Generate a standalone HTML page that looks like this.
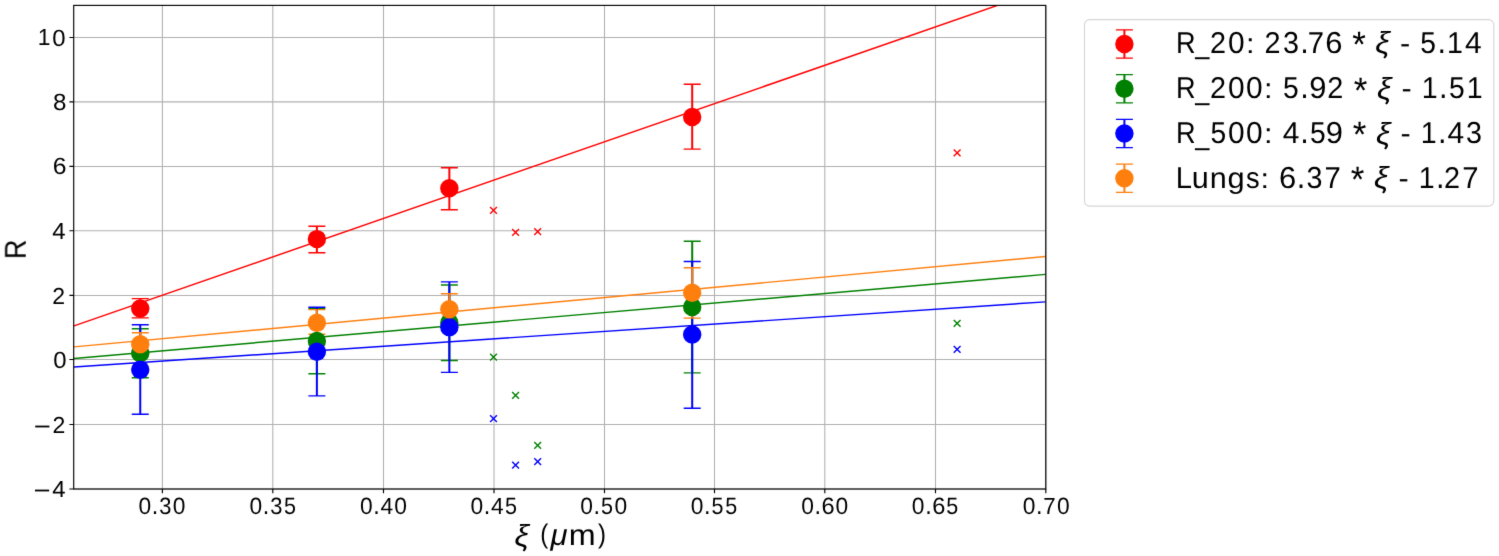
<!DOCTYPE html><html><head><meta charset="utf-8"><style>html,body{margin:0;padding:0;background:#fff;overflow:hidden}svg{display:block}text{font-family:"Liberation Sans", sans-serif;fill:#000;text-rendering:geometricPrecision}</style></head><body>
<svg width="1499" height="556" viewBox="0 0 1499 556">
<defs><filter id="bl" x="0" y="0" width="1499" height="556" filterUnits="userSpaceOnUse" color-interpolation-filters="sRGB"><feConvolveMatrix order="3" kernelMatrix="0.00810 0.07380 0.00810 0.07380 0.67240 0.07380 0.00810 0.07380 0.00810" divisor="1" edgeMode="duplicate" preserveAlpha="false"/></filter></defs>
<g filter="url(#bl)">
<rect width="1499" height="556" fill="#fff"/>
<defs><clipPath id="ax"><rect x="73.70" y="5.40" width="972.10" height="483.60"/></clipPath></defs>
<path d="M162.40 5.40V489.00M272.80 5.40V489.00M383.50 5.40V489.00M494.00 5.40V489.00M604.50 5.40V489.00M714.50 5.40V489.00M824.80 5.40V489.00M935.50 5.40V489.00M1045.80 5.40V489.00M73.70 489.00H1045.80M73.70 424.50H1045.80M73.70 359.50H1045.80M73.70 295.43H1045.80M73.70 230.75H1045.80M73.70 166.43H1045.80M73.70 101.87H1045.80M73.70 37.50H1045.80" stroke="#b0b0b0" stroke-width="1.05" fill="none"/>
<path d="M162.40 489.00v4.30M272.80 489.00v4.30M383.50 489.00v4.30M494.00 489.00v4.30M604.50 489.00v4.30M714.50 489.00v4.30M824.80 489.00v4.30M935.50 489.00v4.30M1045.80 489.00v4.30M73.70 489.00h-4.30M73.70 424.50h-4.30M73.70 359.50h-4.30M73.70 295.43h-4.30M73.70 230.75h-4.30M73.70 166.43h-4.30M73.70 101.87h-4.30M73.70 37.50h-4.30" stroke="#000" stroke-width="1.14" fill="none"/>
<g clip-path="url(#ax)">
<path d="M490.10 206.90l6.80 6.80M490.10 213.70l6.80 -6.80M512.18 228.90l6.80 6.80M512.18 235.70l6.80 -6.80M534.26 228.20l6.80 6.80M534.26 235.00l6.80 -6.80M953.74 149.50l6.80 6.80M953.74 156.30l6.80 -6.80" stroke="#ff0000" stroke-width="1.40" fill="none"/>
<path d="M490.10 353.70l6.80 6.80M490.10 360.50l6.80 -6.80M512.18 392.00l6.80 6.80M512.18 398.80l6.80 -6.80M534.26 441.90l6.80 6.80M534.26 448.70l6.80 -6.80M953.74 320.00l6.80 6.80M953.74 326.80l6.80 -6.80" stroke="#008000" stroke-width="1.40" fill="none"/>
<path d="M490.10 415.20l6.80 6.80M490.10 422.00l6.80 -6.80M512.18 461.80l6.80 6.80M512.18 468.60l6.80 -6.80M534.26 458.30l6.80 6.80M534.26 465.10l6.80 -6.80M953.74 345.90l6.80 6.80M953.74 352.70l6.80 -6.80" stroke="#0000ff" stroke-width="1.40" fill="none"/>
<path d="M140.25 298.60V317.90M316.88 226.25V252.80M449.35 167.80V209.70M692.20 84.20V149.10" stroke="#ff0000" stroke-width="2.00" fill="none"/>
<path d="M131.75 298.60h17.00M131.75 317.90h17.00M308.38 226.25h17.00M308.38 252.80h17.00M440.85 167.80h17.00M440.85 209.70h17.00M683.70 84.20h17.00M683.70 149.10h17.00" stroke="#ff0000" stroke-width="1.40" fill="none"/>
<path d="M74.02 325.89L1045.45 -11.27" stroke="#ff0000" stroke-width="1.45" fill="none"/>
<path d="M140.25 328.70V377.80M316.88 308.50V373.70M449.35 285.00V360.50M692.20 241.20V372.90" stroke="#008000" stroke-width="2.00" fill="none"/>
<path d="M131.75 328.70h17.00M131.75 377.80h17.00M308.38 308.50h17.00M308.38 373.70h17.00M440.85 285.00h17.00M440.85 360.50h17.00M683.70 241.20h17.00M683.70 372.90h17.00" stroke="#008000" stroke-width="1.40" fill="none"/>
<path d="M74.02 358.41L1045.45 274.40" stroke="#008000" stroke-width="1.45" fill="none"/>
<path d="M140.25 324.70V414.30M316.88 307.30V395.90M449.35 281.90V372.40M692.20 261.50V408.20" stroke="#0000ff" stroke-width="2.00" fill="none"/>
<path d="M131.75 324.70h17.00M131.75 414.30h17.00M308.38 307.30h17.00M308.38 395.90h17.00M440.85 281.90h17.00M440.85 372.40h17.00M683.70 261.50h17.00M683.70 408.20h17.00" stroke="#0000ff" stroke-width="1.40" fill="none"/>
<path d="M74.02 366.98L1045.45 301.85" stroke="#0000ff" stroke-width="1.45" fill="none"/>
<path d="M140.25 332.80V355.80M316.88 309.60V334.20M449.35 293.80V324.60M692.20 267.80V318.10" stroke="#ff7f0e" stroke-width="2.00" fill="none"/>
<path d="M131.75 332.80h17.00M131.75 355.80h17.00M308.38 309.60h17.00M308.38 334.20h17.00M440.85 293.80h17.00M440.85 324.60h17.00M683.70 267.80h17.00M683.70 318.10h17.00" stroke="#ff7f0e" stroke-width="1.40" fill="none"/>
<path d="M74.02 346.90L1045.45 256.50" stroke="#ff7f0e" stroke-width="1.45" fill="none"/>
<circle cx="140.25" cy="308.50" r="9.20" fill="#ff0000"/>
<circle cx="316.88" cy="239.10" r="9.20" fill="#ff0000"/>
<circle cx="449.35" cy="188.30" r="9.20" fill="#ff0000"/>
<circle cx="692.20" cy="117.00" r="9.20" fill="#ff0000"/>
<circle cx="140.25" cy="353.30" r="9.20" fill="#008000"/>
<circle cx="316.88" cy="340.90" r="9.20" fill="#008000"/>
<circle cx="449.35" cy="322.75" r="9.20" fill="#008000"/>
<circle cx="692.20" cy="307.05" r="9.20" fill="#008000"/>
<circle cx="140.25" cy="369.70" r="9.20" fill="#0000ff"/>
<circle cx="316.88" cy="351.80" r="9.20" fill="#0000ff"/>
<circle cx="449.35" cy="327.15" r="9.20" fill="#0000ff"/>
<circle cx="692.20" cy="334.50" r="9.20" fill="#0000ff"/>
<circle cx="140.25" cy="344.30" r="9.20" fill="#ff7f0e"/>
<circle cx="316.88" cy="322.70" r="9.20" fill="#ff7f0e"/>
<circle cx="449.35" cy="309.20" r="9.20" fill="#ff7f0e"/>
<circle cx="692.20" cy="292.80" r="9.20" fill="#ff7f0e"/>
</g>
<rect x="73.70" y="5.40" width="972.10" height="483.60" fill="none" stroke="#000" stroke-width="1.14"/>
<rect x="1084.5" y="19.6" width="409.25" height="186.5" rx="5.2" ry="5.2" fill="#fff" fill-opacity="0.8" stroke="#d6d6d6" stroke-width="1.14"/>
<path d="M1124.40 29.85V58.15" stroke="#ff0000" stroke-width="2.00" fill="none"/>
<path d="M1115.90 29.85h17.00M1115.90 58.15h17.00" stroke="#ff0000" stroke-width="1.40" fill="none"/>
<circle cx="1124.40" cy="44.00" r="9.20" fill="#ff0000"/>
<path d="M1124.40 74.60V102.90" stroke="#008000" stroke-width="2.00" fill="none"/>
<path d="M1115.90 74.60h17.00M1115.90 102.90h17.00" stroke="#008000" stroke-width="1.40" fill="none"/>
<circle cx="1124.40" cy="88.75" r="9.20" fill="#008000"/>
<path d="M1124.40 119.35V147.65" stroke="#0000ff" stroke-width="2.00" fill="none"/>
<path d="M1115.90 119.35h17.00M1115.90 147.65h17.00" stroke="#0000ff" stroke-width="1.40" fill="none"/>
<circle cx="1124.40" cy="133.50" r="9.20" fill="#0000ff"/>
<path d="M1124.40 164.10V192.40" stroke="#ff7f0e" stroke-width="2.00" fill="none"/>
<path d="M1115.90 164.10h17.00M1115.90 192.40h17.00" stroke="#ff7f0e" stroke-width="1.40" fill="none"/>
<circle cx="1124.40" cy="178.25" r="9.20" fill="#ff7f0e"/>
<text transform="translate(1176.02 52.90) scale(0.936 1.036)" font-size="29.0">R</text>
<text transform="translate(1195.26 53.39) scale(0.872 1.076)" font-size="29.0">_</text>
<text transform="translate(1209.95 52.90) scale(0.994 1.040)" font-size="29.0">2</text>
<text transform="translate(1228.06 53.01) scale(1.031 1.045)" font-size="29.0">0</text>
<text transform="translate(1245.91 52.90) scale(1.058 0.957)" font-size="29.0">:</text>
<text transform="translate(1264.57 52.90) scale(0.994 1.040)" font-size="29.0">2</text>
<text transform="translate(1283.04 53.01) scale(0.990 1.045)" font-size="29.0">3</text>
<text transform="translate(1300.23 52.90) scale(1.058 1.134)" font-size="29.0">.</text>
<text transform="translate(1307.66 52.90) scale(1.009 1.036)" font-size="29.0">7</text>
<text transform="translate(1325.28 53.01) scale(1.067 1.045)" font-size="29.0">6</text>
<text transform="translate(1352.19 57.20) scale(1.205 1.271)" font-size="29.0">*</text>
<text transform="translate(1375.27 53.41) scale(1.124 1.050)" font-size="29.0" font-style="italic">ξ</text>
<text transform="translate(1399.92 52.85) scale(1.054 1.003)" font-size="29.0">-</text>
<text transform="translate(1420.18 53.01) scale(0.973 1.042)" font-size="29.0">5</text>
<text transform="translate(1437.39 52.90) scale(1.058 1.134)" font-size="29.0">.</text>
<text transform="translate(1447.10 52.90) scale(0.985 1.036)" font-size="29.0">1</text>
<text transform="translate(1464.89 52.90) scale(1.031 1.036)" font-size="29.0">4</text>
<text transform="translate(1176.02 98.20) scale(0.936 1.036)" font-size="29.0">R</text>
<text transform="translate(1195.26 98.69) scale(0.872 1.076)" font-size="29.0">_</text>
<text transform="translate(1209.95 98.20) scale(0.994 1.040)" font-size="29.0">2</text>
<text transform="translate(1228.06 98.31) scale(1.031 1.045)" font-size="29.0">0</text>
<text transform="translate(1246.09 98.31) scale(1.031 1.045)" font-size="29.0">0</text>
<text transform="translate(1263.94 98.20) scale(1.058 0.957)" font-size="29.0">:</text>
<text transform="translate(1283.03 98.31) scale(0.973 1.042)" font-size="29.0">5</text>
<text transform="translate(1300.23 98.20) scale(1.058 1.134)" font-size="29.0">.</text>
<text transform="translate(1309.35 98.31) scale(1.065 1.045)" font-size="29.0">9</text>
<text transform="translate(1327.15 98.20) scale(0.994 1.040)" font-size="29.0">2</text>
<text transform="translate(1353.85 102.50) scale(1.205 1.271)" font-size="29.0">*</text>
<text transform="translate(1376.93 98.71) scale(1.124 1.050)" font-size="29.0" font-style="italic">ξ</text>
<text transform="translate(1401.58 98.15) scale(1.054 1.003)" font-size="29.0">-</text>
<text transform="translate(1421.73 98.20) scale(0.985 1.036)" font-size="29.0">1</text>
<text transform="translate(1439.04 98.20) scale(1.058 1.134)" font-size="29.0">.</text>
<text transform="translate(1448.88 98.31) scale(0.973 1.042)" font-size="29.0">5</text>
<text transform="translate(1466.79 98.20) scale(0.985 1.036)" font-size="29.0">1</text>
<text transform="translate(1176.02 143.10) scale(0.936 1.036)" font-size="29.0">R</text>
<text transform="translate(1195.26 143.59) scale(0.872 1.076)" font-size="29.0">_</text>
<text transform="translate(1210.38 143.21) scale(0.973 1.042)" font-size="29.0">5</text>
<text transform="translate(1228.06 143.21) scale(1.031 1.045)" font-size="29.0">0</text>
<text transform="translate(1246.09 143.21) scale(1.031 1.045)" font-size="29.0">0</text>
<text transform="translate(1263.94 143.10) scale(1.058 0.957)" font-size="29.0">:</text>
<text transform="translate(1282.67 143.10) scale(1.031 1.036)" font-size="29.0">4</text>
<text transform="translate(1300.23 143.10) scale(1.058 1.134)" font-size="29.0">.</text>
<text transform="translate(1310.07 143.21) scale(0.973 1.042)" font-size="29.0">5</text>
<text transform="translate(1325.84 143.21) scale(1.065 1.045)" font-size="29.0">9</text>
<text transform="translate(1352.82 147.40) scale(1.205 1.271)" font-size="29.0">*</text>
<text transform="translate(1375.91 143.61) scale(1.124 1.050)" font-size="29.0" font-style="italic">ξ</text>
<text transform="translate(1400.56 143.05) scale(1.054 1.003)" font-size="29.0">-</text>
<text transform="translate(1420.70 143.10) scale(0.985 1.036)" font-size="29.0">1</text>
<text transform="translate(1438.02 143.10) scale(1.058 1.134)" font-size="29.0">.</text>
<text transform="translate(1447.50 143.10) scale(1.031 1.036)" font-size="29.0">4</text>
<text transform="translate(1465.90 143.21) scale(0.990 1.045)" font-size="29.0">3</text>
<text transform="translate(1175.86 187.80) scale(1.006 1.036)" font-size="29.0">L</text>
<text transform="translate(1191.68 187.91) scale(1.055 1.044)" font-size="29.0">u</text>
<text transform="translate(1209.76 187.80) scale(1.055 1.018)" font-size="29.0">n</text>
<text transform="translate(1227.45 187.62) scale(1.063 1.010)" font-size="29.0">g</text>
<text transform="translate(1245.94 187.91) scale(0.938 1.028)" font-size="29.0">s</text>
<text transform="translate(1260.45 187.80) scale(1.058 0.957)" font-size="29.0">:</text>
<text transform="translate(1278.89 187.91) scale(1.067 1.045)" font-size="29.0">6</text>
<text transform="translate(1296.74 187.80) scale(1.058 1.134)" font-size="29.0">.</text>
<text transform="translate(1306.59 187.91) scale(0.990 1.045)" font-size="29.0">3</text>
<text transform="translate(1324.38 187.80) scale(1.009 1.036)" font-size="29.0">7</text>
<text transform="translate(1350.87 192.10) scale(1.205 1.271)" font-size="29.0">*</text>
<text transform="translate(1373.96 188.31) scale(1.124 1.050)" font-size="29.0" font-style="italic">ξ</text>
<text transform="translate(1398.60 187.75) scale(1.054 1.003)" font-size="29.0">-</text>
<text transform="translate(1418.75 187.80) scale(0.985 1.036)" font-size="29.0">1</text>
<text transform="translate(1436.07 187.80) scale(1.058 1.134)" font-size="29.0">.</text>
<text transform="translate(1443.94 187.80) scale(0.994 1.040)" font-size="29.0">2</text>
<text transform="translate(1462.17 187.80) scale(1.009 1.036)" font-size="29.0">7</text>
<text transform="translate(514.62 545.61) scale(1.124 1.050)" font-size="29.0" font-style="italic">ξ</text>
<text transform="translate(540.19 543.23) scale(0.827 0.935)" font-size="29.0">(</text>
<text transform="translate(550.58 545.30) scale(1.071 1.025)" font-size="29.0" font-style="italic">μ</text>
<text transform="translate(568.76 545.10) scale(1.114 1.018)" font-size="29.0">m</text>
<text transform="translate(598.06 543.23) scale(0.827 0.935)" font-size="29.0">)</text>
<text transform="translate(138.41 513.68) scale(0.991 1.029)" font-size="23.0">0</text>
<text transform="translate(151.77 513.60) scale(1.018 1.117)" font-size="23.0">.</text>
<text transform="translate(159.27 513.68) scale(0.952 1.029)" font-size="23.0">3</text>
<text transform="translate(172.72 513.68) scale(0.991 1.029)" font-size="23.0">0</text>
<text transform="translate(249.45 513.68) scale(0.991 1.029)" font-size="23.0">0</text>
<text transform="translate(262.82 513.60) scale(1.018 1.117)" font-size="23.0">.</text>
<text transform="translate(270.32 513.68) scale(0.952 1.029)" font-size="23.0">3</text>
<text transform="translate(284.03 513.68) scale(0.936 1.026)" font-size="23.0">5</text>
<text transform="translate(359.96 513.68) scale(0.991 1.029)" font-size="23.0">0</text>
<text transform="translate(373.32 513.60) scale(1.018 1.117)" font-size="23.0">.</text>
<text transform="translate(380.54 513.60) scale(0.991 1.020)" font-size="23.0">4</text>
<text transform="translate(394.27 513.68) scale(0.991 1.029)" font-size="23.0">0</text>
<text transform="translate(470.50 513.68) scale(0.991 1.029)" font-size="23.0">0</text>
<text transform="translate(483.87 513.60) scale(1.018 1.117)" font-size="23.0">.</text>
<text transform="translate(491.09 513.60) scale(0.991 1.020)" font-size="23.0">4</text>
<text transform="translate(505.08 513.68) scale(0.936 1.026)" font-size="23.0">5</text>
<text transform="translate(580.22 513.68) scale(0.991 1.029)" font-size="23.0">0</text>
<text transform="translate(593.58 513.60) scale(1.018 1.117)" font-size="23.0">.</text>
<text transform="translate(601.07 513.68) scale(0.936 1.026)" font-size="23.0">5</text>
<text transform="translate(614.53 513.68) scale(0.991 1.029)" font-size="23.0">0</text>
<text transform="translate(690.71 513.68) scale(0.991 1.029)" font-size="23.0">0</text>
<text transform="translate(704.08 513.60) scale(1.018 1.117)" font-size="23.0">.</text>
<text transform="translate(711.57 513.68) scale(0.936 1.026)" font-size="23.0">5</text>
<text transform="translate(725.29 513.68) scale(0.936 1.026)" font-size="23.0">5</text>
<text transform="translate(801.25 513.68) scale(0.991 1.029)" font-size="23.0">0</text>
<text transform="translate(814.61 513.60) scale(1.018 1.117)" font-size="23.0">.</text>
<text transform="translate(821.61 513.68) scale(1.026 1.029)" font-size="23.0">6</text>
<text transform="translate(835.56 513.68) scale(0.991 1.029)" font-size="23.0">0</text>
<text transform="translate(911.79 513.68) scale(0.991 1.029)" font-size="23.0">0</text>
<text transform="translate(925.16 513.60) scale(1.018 1.117)" font-size="23.0">.</text>
<text transform="translate(932.15 513.68) scale(1.026 1.029)" font-size="23.0">6</text>
<text transform="translate(946.37 513.68) scale(0.936 1.026)" font-size="23.0">5</text>
<text transform="translate(1022.66 513.68) scale(0.991 1.029)" font-size="23.0">0</text>
<text transform="translate(1036.02 513.60) scale(1.018 1.117)" font-size="23.0">.</text>
<text transform="translate(1043.34 513.60) scale(0.970 1.020)" font-size="23.0">7</text>
<text transform="translate(1056.97 513.68) scale(0.991 1.029)" font-size="23.0">0</text>
<text transform="translate(37.87 45.49) scale(0.993 1.009)" font-size="23.0">1</text>
<text transform="translate(52.13 45.57) scale(1.040 1.017)" font-size="23.0">0</text>
<text transform="translate(52.95 109.97) scale(1.051 1.017)" font-size="23.0">8</text>
<text transform="translate(52.67 174.42) scale(1.076 1.017)" font-size="23.0">6</text>
<text transform="translate(52.30 238.65) scale(1.040 1.009)" font-size="23.0">4</text>
<text transform="translate(52.34 304.30) scale(1.003 1.012)" font-size="23.0">2</text>
<text transform="translate(53.33 368.47) scale(1.040 1.017)" font-size="23.0">0</text>
<text transform="translate(33.86 434.51) scale(1.271 1.109)" font-size="23.0">−</text>
<text transform="translate(52.44 432.90) scale(1.003 1.012)" font-size="23.0">2</text>
<text transform="translate(33.56 498.71) scale(1.271 1.109)" font-size="23.0">−</text>
<text transform="translate(52.20 497.10) scale(1.040 1.009)" font-size="23.0">4</text>
<g transform="translate(25.65 259.68) rotate(-90)"><text transform="translate(0.56 0.00) scale(0.936 1.036)" font-size="29.0">R</text></g>
</g></svg></body></html>
